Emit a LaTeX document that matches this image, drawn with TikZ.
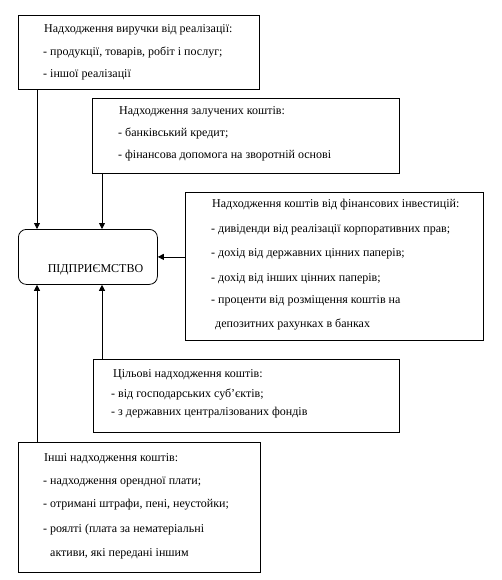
\documentclass[tikz,border=0pt]{standalone}
\usepackage{fontspec}
\setmainfont{Liberation Serif}
\newfontfamily\tnrfont{Liberation Serif}
\usetikzlibrary{arrows.meta,calc}
\begin{document}
\begin{tikzpicture}[x=1pt,y=-1pt,
  box/.style={draw,line width=0.8pt,rectangle,anchor=north west,inner sep=0pt},
  txt/.style={anchor=base west,inner sep=0pt,font=\tnrfont\fontsize{12}{14}\selectfont},
  arr/.style={line width=0.8pt,-{Triangle[length=6pt,width=6pt]}}]
\useasboundingbox (0,0) rectangle (501,580);
\fill[white] (0,0) rectangle (501,580);
% boxes
\node[box,minimum width=241pt,minimum height=74pt] (b1) at (18,15) {};
\node[box,minimum width=307pt,minimum height=75pt] (b2) at (92,98) {};
\node[box,minimum width=298pt,minimum height=148pt] (b3) at (185,192) {};
\node[box,rounded corners=8pt,minimum width=139pt,minimum height=55pt] (ent) at (18,229) {};
\node[box,minimum width=306pt,minimum height=73pt] (b4) at (93,359) {};
\node[box,minimum width=242pt,minimum height=130pt] (b5) at (18,442) {};
% texts
\node[txt] (t1a) at (44,33) {Надходження виручки від реалізації:};
\node[txt] (t1b) at (43,56) {- продукції, товарів, робіт і послуг;};
\node[txt] (t1c) at (43,78) {- іншої реалізації};
\node[txt] (t2a) at (119,115) {Надходження залучених коштів:};
\node[txt] (t2b) at (118,137) {- банківський кредит;};
\node[txt] (t2c) at (118,158) {- фінансова допомога на зворотній основі};
\node[txt] (t3a) at (212,207) {Надходження коштів від фінансових інвестицій:};
\node[txt] (t3b) at (211,232) {- дивіденди від реалізації корпоративних прав;};
\node[txt] (t3c) at (211,256) {- дохід від державних цінних паперів;};
\node[txt] (t3d) at (211,281) {- дохід від інших цінних паперів;};
\node[txt] (t3e) at (211,303) {- проценти від розміщення коштів на};
\node[txt] (t3f) at (215,327) {депозитних рахунках в банках};
\node[txt,anchor=base] (tent) at (95.5,272) {ПІДПРИЄМСТВО};
\node[txt] (t4a) at (113,377) {Цільові надходження коштів:};
\node[txt] (t4b) at (111,397) {- від господарських суб’єктів;};
\node[txt] (t4c) at (111,415) {- з державних централізованих фондів};
\node[txt] (t5a) at (44,461) {Інші надходження коштів:};
\node[txt] (t5b) at (43,484) {- надходження орендної плати;};
\node[txt] (t5c) at (43,507) {- отримані штрафи, пені, неустойки;};
\node[txt] (t5d) at (43,532) {- роялті (плата за нематеріальні};
\node[txt] (t5e) at (50,556) {активи, які передані іншим};
% connectors
\draw[arr] ([xshift=19pt]b1.south west) -- ([xshift=19pt]ent.north west);
\draw[arr] ([xshift=10pt]b2.south west) -- ([xshift=10pt]b2.south west |- ent.north);
\draw[arr] (ent.east -| b3.west) -- (ent.east);
\draw[arr] ([xshift=9pt]b4.north west) -- ([xshift=9pt]b4.north west |- ent.south);
\draw[arr] ([xshift=19pt]b5.north west) -- ([xshift=19pt]ent.south west);
\end{tikzpicture}
\end{document}
